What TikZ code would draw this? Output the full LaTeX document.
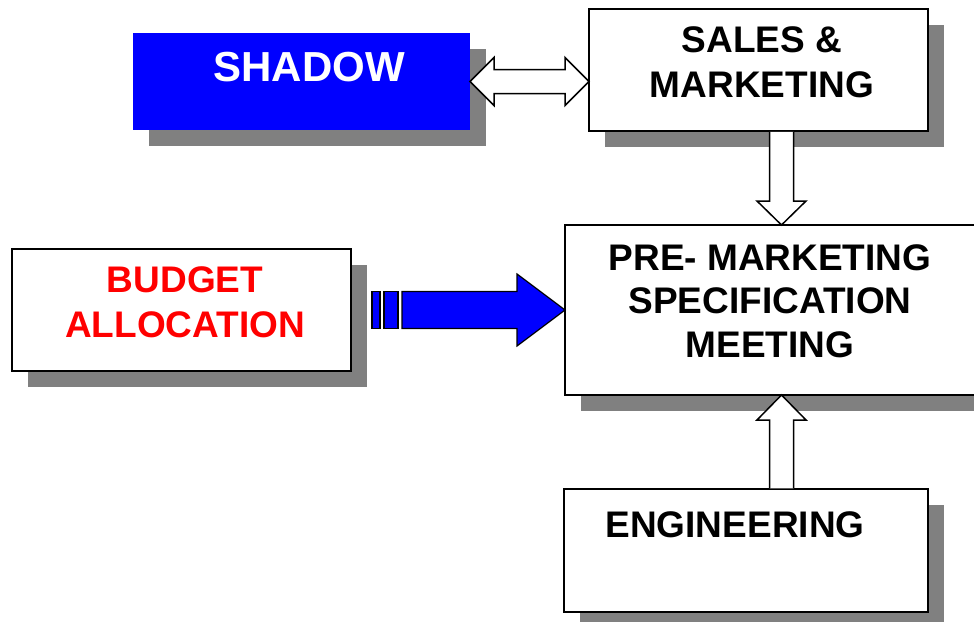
\documentclass[tikz,border=0pt]{standalone}
\usepackage{fontspec}
\setmainfont{Liberation Sans}
\usetikzlibrary{shadows,calc}
\definecolor{panelblue}{RGB}{0,0,255}
\definecolor{shadegray}{RGB}{128,128,128}
\definecolor{labelred}{RGB}{255,0,0}
\begin{document}
\begin{tikzpicture}[x=1pt,y=-1pt,
  box/.style={rectangle, draw=black, line width=1.5pt, fill=white,
    inner sep=0pt, outer sep=0pt, anchor=north west,
    drop shadow={shadow xshift=16pt, shadow yshift=-16pt, opacity=1, fill=shadegray}},
  boxtext/.style={font=\bfseries\fontsize{37}{45}\selectfont, align=center,
    inner sep=0pt, anchor=center},
  hollow/.style={draw=black, line width=1.5pt, fill=white, line join=miter},
  solidarrow/.style={draw=black, line width=1.2pt, fill=panelblue, line join=miter}
]
\useasboundingbox (0,0) rectangle (974,621);
\begin{scope}
\clip (0,0) rectangle (974,621);

% blocks
\node[box, fill=panelblue, draw=none, minimum width=337pt, minimum height=97pt] (shadowbox) at (133,33) {};
\node[box, minimum width=339pt, minimum height=122pt] (sales) at (589,9) {};
\node[box, minimum width=440pt, minimum height=170pt] (pre) at (565,225) {};
\node[box, minimum width=339pt, minimum height=122pt] (budget) at (12,249) {};
\node[box, minimum width=364pt, minimum height=123pt] (eng) at (564,489) {};

% two-headed hollow arrow between SHADOW and SALES & MARKETING
\coordinate (dl) at (shadowbox.east);
\coordinate (dr) at (dl -| sales.west);
\draw[hollow] (dl) -- ++(24,-24) -- ++(0,12) -- ($(dr)+(-24,-12)$) -- ++(0,-12)
  -- (dr) -- ++(-24,24) -- ++(0,-12) -- ($(dl)+(24,12)$) -- ++(0,12) -- cycle;

% hollow arrow down into the meeting
\coordinate (colTop) at ($(sales.south)+(23,0.75)$);
\coordinate (colTip) at (colTop |- pre.north);
\draw[hollow] ($(colTop)+(-12,0)$) -- ($(colTip)+(-12,-24)$) -- ++(-12.5,0) -- (colTip)
  -- ($(colTip)+(24.5,-24)$) -- ++(-12.5,0) -- ($(colTop)+(12,0)$);

% hollow arrow up from engineering
\coordinate (upBase) at ($(colTop |- eng.north)+(0,-0.75)$);
\coordinate (upTip) at (colTop |- pre.south);
\draw[hollow] ($(upBase)+(-12,0)$) -- ($(upTip)+(-12,25)$) -- ++(-12.5,0) -- (upTip)
  -- ($(upTip)+(24.5,25)$) -- ++(-12.5,0) -- ($(upBase)+(12,0)$);

% solid blue arrow from the budget into the meeting
\coordinate (bt) at (pre.west);
\draw[solidarrow] ($(bt)+(-193,-18.5)$) rectangle ($(bt)+(-185,18.5)$);
\draw[solidarrow] ($(bt)+(-181,-18.5)$) rectangle ($(bt)+(-167,18.5)$);
\draw[solidarrow] ($(bt)+(-163,-18.5)$) -- ($(bt)+(-48,-18.5)$) -- ($(bt)+(-48,-36)$)
  -- (bt) -- ($(bt)+(-48,36)$) -- ($(bt)+(-48,18.5)$) -- ($(bt)+(-163,18.5)$) -- cycle;

% texts
\node[boxtext, font=\bfseries\fontsize{42}{50}\selectfont, text=white] (shadowtext) at (309,67) {SHADOW};
\node[boxtext] (salestext) at (762,62.5) {SALES \&\\MARKETING};
\node[boxtext, text=labelred] (budgettext) at (185,302.5) {BUDGET\\ALLOCATION};
\node[boxtext, font=\bfseries\fontsize{37}{43.5}\selectfont] (pretext) at (770,301) {PRE- MARKETING\\SPECIFICATION\\MEETING};
\node[boxtext] (engtext) at (735,525) {ENGINEERING};
\end{scope}
\end{tikzpicture}
\end{document}
